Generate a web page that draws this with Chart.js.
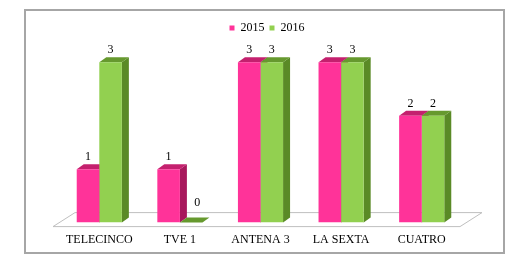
<!DOCTYPE html>
<html>
<head>
<meta charset="utf-8">
<script src="https://cdn.jsdelivr.net/npm/chart.js@4.4.1/dist/chart.umd.min.js"></script>
<style>
  html, body { margin: 0; padding: 0; background: #fff; }
  #wrap { width: 530px; height: 277px; }
</style>
</head>
<body>
<div id="wrap"><canvas id="canalesChart"></canvas></div>
<script>
// Datos
const canales = ['TELECINCO', 'TVE 1', 'ANTENA 3', 'LA SEXTA', 'CUATRO'];
const valores2015 = [1, 1, 3, 3, 2];
const valores2016 = [3, 0, 3, 3, 2];

const rosa = { front: '#FF3399', side: '#A8185C', top: '#C4206E' };
const verde = { front: '#92D050', side: '#5A8A26', top: '#66992E' };
const DX = 7, DY = -5;
const serif = '"Times New Roman", "Liberation Serif", serif';

// caja gris alrededor
const marco = {
    id: 'marco',
    beforeDraw(chart) {
        const ctx = chart.ctx;
        ctx.save();
        ctx.fillStyle = '#fff';
        ctx.fillRect(0, 0, chart.width, chart.height);
        ctx.strokeStyle = '#A6A6A6';
        ctx.lineWidth = 2;
        ctx.strokeRect(25, 10, 479, 243);
        ctx.restore();
    }
};

// suelo y caras laterales/superiores de las barras (efecto 3D)
const barras3d = {
    id: 'barras3d',
    beforeDatasetsDraw(chart) {
        const ctx = chart.ctx;
        const a = chart.chartArea;
        const base = chart.scales.y.getPixelForValue(0);
        ctx.save();
        ctx.strokeStyle = '#BFBFBF';
        ctx.lineWidth = 1;
        ctx.beginPath();
        ctx.moveTo(a.left - 6, base + 4);
        ctx.lineTo(a.right - 2, base + 4);
        ctx.lineTo(a.right + 20, base - 10);
        ctx.lineTo(a.left + 16, base - 10);
        ctx.closePath();
        ctx.fillStyle = '#fff';
        ctx.fill();
        ctx.stroke();

        chart.data.datasets.forEach((ds, i) => {
            const col = i === 0 ? rosa : verde;
            chart.getDatasetMeta(i).data.forEach(bar => {
                const l = bar.x - bar.width / 2, r = bar.x + bar.width / 2;
                ctx.fillStyle = col.side;
                ctx.beginPath();
                ctx.moveTo(r, bar.y);
                ctx.lineTo(r + DX, bar.y + DY);
                ctx.lineTo(r + DX, bar.base + DY);
                ctx.lineTo(r, bar.base);
                ctx.closePath();
                ctx.fill();
                ctx.fillStyle = col.top;
                ctx.beginPath();
                ctx.moveTo(l, bar.y);
                ctx.lineTo(l + DX, bar.y + DY);
                ctx.lineTo(r + DX, bar.y + DY);
                ctx.lineTo(r, bar.y);
                ctx.closePath();
                ctx.fill();
            });
        });
        ctx.restore();
    },
    afterDatasetsDraw(chart) {
        const ctx = chart.ctx;
        ctx.save();
        ctx.font = '12px ' + serif;
        ctx.fillStyle = '#000';
        ctx.textAlign = 'center';
        ctx.textBaseline = 'bottom';
        chart.data.datasets.forEach((ds, i) => {
            chart.getDatasetMeta(i).data.forEach((bar, j) => {
                const v = ds.data[j];
                if (v === 0) {
                    ctx.fillText(String(v), bar.x + 6, bar.y - 14);
                } else {
                    ctx.fillText(String(v), bar.x, bar.y + DY - 1);
                }
            });
        });
        ctx.restore();
    }
};

new Chart(document.getElementById('canalesChart').getContext('2d'), {
    type: 'bar',
    data: {
        labels: canales,
        datasets: [{
            label: '2015',
            data: valores2015,
            backgroundColor: rosa.front,
            borderWidth: 0
        }, {
            label: '2016',
            data: valores2016,
            backgroundColor: verde.front,
            borderWidth: 0
        }]
    },
    options: {
        responsive: true,
        maintainAspectRatio: false,
        animation: false,
        barPercentage: 1,
        categoryPercentage: 0.56,
        layout: { padding: { left: 59, right: 55, top: 17, bottom: 20 } },
        plugins: {
            legend: {
                labels: {
                    boxWidth: 5,
                    boxHeight: 5,
                    padding: 5,
                    color: '#000',
                    font: { family: serif, size: 12 }
                }
            },
            tooltip: { enabled: false }
        },
        scales: {
            x: {
                grid: { display: false, drawTicks: false },
                border: { display: false },
                ticks: {
                    padding: 10,
                    color: '#000',
                    font: { family: serif, size: 12 }
                }
            },
            y: {
                position: 'right',
                min: 0,
                max: 3.34,
                grid: { display: false, drawTicks: false },
                border: { display: false },
                ticks: { display: false },
                afterFit(scale) { scale.width = 13; }
            }
        }
    },
    plugins: [marco, barras3d]
});
</script>
</body>
</html>
